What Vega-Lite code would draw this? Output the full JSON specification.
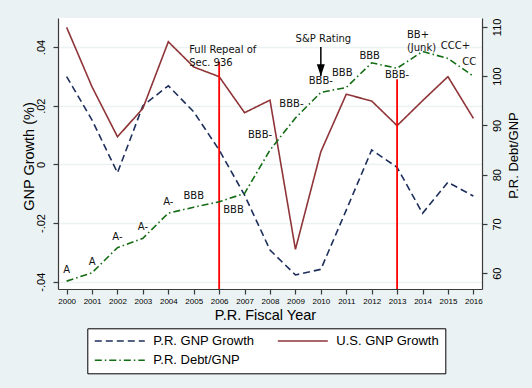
{
  "$schema": "https://vega.github.io/schema/vega-lite/v6.json",
  "width": 424,
  "height": 271,
  "autosize": {"type": "none"},
  "padding": {"left": 58, "top": 18, "right": 50, "bottom": 99},
  "background": "#eaf2f3",
  "config": {
    "view": {"fill": "#ffffff", "stroke": null},
    "axis": {"domainColor": "#3a3a3a", "domainWidth": 1.2, "tickColor": "#3a3a3a", "tickWidth": 1.2, "tickSize": 5, "labelFont": "Liberation Sans", "labelColor": "#000000", "titleFont": "Liberation Sans", "titleFontWeight": "normal", "titleColor": "#000000"},
    "text": {"font": "DejaVu Sans", "fontSize": 10, "color": "#111111"}
  },
  "datasets": {
    "annual": [
      {"year": 2000, "pr_gnp": 0.0299, "us_gnp": 0.0467, "pr_debt": 58.4, "rating": "A"},
      {"year": 2001, "pr_gnp": 0.0151, "us_gnp": 0.0264, "pr_debt": 60.1, "rating": "A"},
      {"year": 2002, "pr_gnp": -0.0029, "us_gnp": 0.0094, "pr_debt": 65.2, "rating": "A-"},
      {"year": 2003, "pr_gnp": 0.0200, "us_gnp": 0.0191, "pr_debt": 67.1, "rating": "A-"},
      {"year": 2004, "pr_gnp": 0.0268, "us_gnp": 0.0418, "pr_debt": 72.2, "rating": "A-"},
      {"year": 2005, "pr_gnp": 0.0179, "us_gnp": 0.0332, "pr_debt": 73.4, "rating": "BBB"},
      {"year": 2006, "pr_gnp": 0.0049, "us_gnp": 0.0299, "pr_debt": 74.5, "rating": "BBB"},
      {"year": 2007, "pr_gnp": -0.0105, "us_gnp": 0.0176, "pr_debt": 76.2, "rating": ""},
      {"year": 2008, "pr_gnp": -0.0292, "us_gnp": 0.0219, "pr_debt": 85.0, "rating": "BBB-"},
      {"year": 2009, "pr_gnp": -0.0377, "us_gnp": -0.0290, "pr_debt": 91.5, "rating": "BBB-"},
      {"year": 2010, "pr_gnp": -0.0358, "us_gnp": 0.0043, "pr_debt": 96.7, "rating": "BBB-"},
      {"year": 2011, "pr_gnp": -0.0156, "us_gnp": 0.0239, "pr_debt": 97.7, "rating": "BBB"},
      {"year": 2012, "pr_gnp": 0.0049, "us_gnp": 0.0216, "pr_debt": 102.7, "rating": "BBB"},
      {"year": 2013, "pr_gnp": -0.0010, "us_gnp": 0.0132, "pr_debt": 101.6, "rating": "BBB-"},
      {"year": 2014, "pr_gnp": -0.0167, "us_gnp": 0.0217, "pr_debt": 105.0, "rating": "BB+\n(Junk)"},
      {"year": 2015, "pr_gnp": -0.0061, "us_gnp": 0.0299, "pr_debt": 103.6, "rating": "CCC+"},
      {"year": 2016, "pr_gnp": -0.0108, "us_gnp": 0.0157, "pr_debt": 100.0, "rating": "CC"}
    ],
    "events": [
      {"year": 2006, "top": 0.035, "note": "Full Repeal of\nSec. 936"},
      {"year": 2013, "top": 0.029, "note": ""}
    ],
    "arrow": [
      {"year": 2010, "start": 0.04, "tip": 0.03, "note": "S&P Rating"}
    ]
  },
  "encoding": {
    "x": {"field": "year", "type": "quantitative", "scale": {"domain": [1999.66, 2016.34], "nice": false, "zero": false},
      "axis": {"values": [2000, 2001, 2002, 2003, 2004, 2005, 2006, 2007, 2008, 2009, 2010, 2011, 2012, 2013, 2014, 2015, 2016], "format": "d", "labelFontSize": 8, "labelPadding": 3.6, "labelAngle": 0, "labelFlush": false, "labelOverlap": false, "grid": false, "title": "P.R. Fiscal Year", "titleFontSize": 14.5, "titleX": 207, "titleY": 30.5, "titleAlign": "center", "titleBaseline": "alphabetic"}}
  },
  "layer": [
    {
      "layer": [
        {
          "data": {"name": "annual"},
          "transform": [{"fold": ["pr_gnp", "us_gnp"], "as": ["key", "value"]}],
          "mark": {"type": "line", "strokeWidth": 1.6},
          "encoding": {
            "y": {"field": "value", "type": "quantitative", "scale": {"domain": [-0.0425, 0.0499], "nice": false, "zero": false},
              "axis": {"values": [-0.04, -0.02, 0, 0.02, 0.04], "labelExpr": "datum.value < -0.03 ? '-.04' : datum.value < -0.01 ? '-.02' : datum.value < 0.01 ? '0' : datum.value < 0.03 ? '.02' : '.04'", "labelFontSize": 11, "labelAngle": 270, "labelAlign": "center", "labelBaseline": "alphabetic", "labelPadding": 9, "grid": true, "gridColor": "#eaf2f3", "gridWidth": 1.5, "title": "GNP Growth (%)", "titleFontSize": 14.5, "titleAngle": 270, "titleX": -24.5, "titleY": 138, "titleAlign": "center", "titleBaseline": "alphabetic"}},
            "color": {"field": "key", "type": "nominal", "scale": {"domain": ["pr_gnp", "pr_debt", "us_gnp"], "range": ["#1e2f5c", "#136b13", "#8f3539"]},
              "legend": {"title": null, "orient": "none", "legendX": 29.3, "legendY": 310.3, "columns": 2, "symbolType": "M-1,0H9", "symbolSize": 100, "symbolStrokeWidth": 1.6, "labelOffset": 47, "labelFont": "Liberation Sans", "labelFontSize": 13, "labelColor": "#000000", "labelLimit": 300, "strokeColor": "#000000", "fillColor": "#ffffff", "padding": 6, "rowPadding": 5.5, "columnPadding": 20,
                "labelExpr": "datum.label == 'pr_gnp' ? 'P.R. GNP Growth' : datum.label == 'us_gnp' ? 'U.S. GNP Growth' : 'P.R. Debt/GNP'"}},
            "strokeDash": {"field": "key", "type": "nominal", "scale": {"domain": ["pr_gnp", "pr_debt", "us_gnp"], "range": [[7, 4], [7, 3, 1.5, 3], [1, 0]]},
              "legend": {"title": null, "orient": "none", "legendX": 29.3, "legendY": 310.3, "columns": 2, "symbolType": "M-1,0H9", "symbolSize": 100, "symbolStrokeWidth": 1.6, "labelOffset": 47, "labelFont": "Liberation Sans", "labelFontSize": 13, "labelColor": "#000000", "labelLimit": 300, "strokeColor": "#000000", "fillColor": "#ffffff", "padding": 6, "rowPadding": 5.5, "columnPadding": 20,
                "labelExpr": "datum.label == 'pr_gnp' ? 'P.R. GNP Growth' : datum.label == 'us_gnp' ? 'U.S. GNP Growth' : 'P.R. Debt/GNP'"}}
          }
        },
        {
          "data": {"name": "events"},
          "mark": {"type": "rule", "color": "#ff0000", "strokeWidth": 1.8},
          "encoding": {
            "y": {"field": "top", "type": "quantitative"},
            "y2": {"datum": -0.0425}
          }
        },
        {
          "data": {"name": "events"},
          "mark": {"type": "text", "align": "left", "baseline": "middle", "dx": -30, "dy": -11.7, "lineBreak": "\n", "lineHeight": 13.4},
          "encoding": {
            "y": {"field": "top", "type": "quantitative"},
            "text": {"field": "note"}
          }
        },
        {
          "data": {"name": "arrow"},
          "mark": {"type": "rule", "color": "#000000", "strokeWidth": 1.5},
          "encoding": {
            "y": {"field": "start", "type": "quantitative"},
            "y2": {"field": "tip"}
          }
        },
        {
          "data": {"name": "arrow"},
          "mark": {"type": "point", "shape": "M-0.333,-1L0.333,-1L0,0Z", "filled": true, "size": 576, "color": "#000000", "opacity": 1},
          "encoding": {
            "y": {"field": "tip", "type": "quantitative"}
          }
        },
        {
          "data": {"name": "arrow"},
          "mark": {"type": "text", "align": "center", "baseline": "middle", "dx": 2.5, "dy": -7.6},
          "encoding": {
            "y": {"field": "start", "type": "quantitative"},
            "text": {"field": "note"}
          }
        }
      ]
    },
    {
      "data": {"name": "annual"},
      "layer": [
        {
          "transform": [{"fold": ["pr_debt"], "as": ["key", "value"]}],
          "mark": {"type": "line", "strokeWidth": 1.6},
          "encoding": {
            "y": {"field": "value", "type": "quantitative", "scale": {"domain": [56.8, 111.8], "nice": false, "zero": false},
              "axis": {"orient": "right", "values": [60, 70, 80, 90, 100, 110], "labelFontSize": 11, "labelAngle": 270, "labelAlign": "center", "labelBaseline": "alphabetic", "labelPadding": 13.2, "grid": false, "title": "P.R. Debt/GNP", "titleFontSize": 13, "titleAngle": 270, "titleX": 35.7, "titleY": 137, "titleAlign": "center", "titleBaseline": "alphabetic"}},
            "color": {"field": "key", "type": "nominal"},
            "strokeDash": {"field": "key", "type": "nominal"}
          }
        },
        {
          "transform": [{"filter": {"field": "year", "oneOf": [2000, 2001, 2002, 2003, 2004, 2005, 2010]}}],
          "mark": {"type": "text", "align": "center", "baseline": "middle", "dy": -11},
          "encoding": {"y": {"field": "pr_debt", "type": "quantitative"}, "text": {"field": "rating"}}
        },
        {
          "transform": [{"filter": {"field": "year", "oneOf": [2006]}}],
          "mark": {"type": "text", "align": "left", "baseline": "middle", "dx": 4, "dy": 8},
          "encoding": {"y": {"field": "pr_debt", "type": "quantitative"}, "text": {"field": "rating"}}
        },
        {
          "transform": [{"filter": {"field": "year", "oneOf": [2008]}}],
          "mark": {"type": "text", "align": "center", "baseline": "middle", "dx": -10, "dy": -15},
          "encoding": {"y": {"field": "pr_debt", "type": "quantitative"}, "text": {"field": "rating"}}
        },
        {
          "transform": [{"filter": {"field": "year", "oneOf": [2009, 2011, 2016]}}],
          "mark": {"type": "text", "align": "center", "baseline": "middle", "dx": -4, "dy": -14},
          "encoding": {"y": {"field": "pr_debt", "type": "quantitative"}, "text": {"field": "rating"}}
        },
        {
          "transform": [{"filter": {"field": "year", "oneOf": [2012]}}],
          "mark": {"type": "text", "align": "center", "baseline": "middle", "dx": -2, "dy": -7},
          "encoding": {"y": {"field": "pr_debt", "type": "quantitative"}, "text": {"field": "rating"}}
        },
        {
          "transform": [{"filter": {"field": "year", "oneOf": [2013]}}],
          "mark": {"type": "text", "align": "center", "baseline": "middle", "dy": 7},
          "encoding": {"y": {"field": "pr_debt", "type": "quantitative"}, "text": {"field": "rating"}}
        },
        {
          "transform": [{"filter": {"field": "year", "oneOf": [2014]}}],
          "mark": {"type": "text", "align": "left", "baseline": "middle", "dx": -15.6, "dy": -16.8, "lineBreak": "\n", "lineHeight": 13.7},
          "encoding": {"y": {"field": "pr_debt", "type": "quantitative"}, "text": {"field": "rating"}}
        },
        {
          "transform": [{"filter": {"field": "year", "oneOf": [2015]}}],
          "mark": {"type": "text", "align": "center", "baseline": "middle", "dx": 7.5, "dy": -12.6},
          "encoding": {"y": {"field": "pr_debt", "type": "quantitative"}, "text": {"field": "rating"}}
        }
      ]
    }
  ],
  "resolve": {"scale": {"y": "independent"}}
}
